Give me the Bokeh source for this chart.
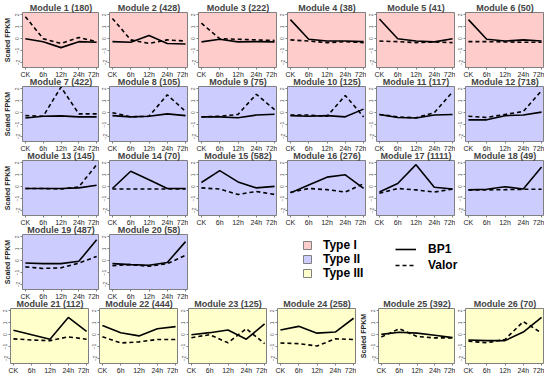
from bokeh.plotting import figure
from bokeh.layouts import column, row
from bokeh.models import Range1d, FixedTicker, Legend, LegendItem
from bokeh.embed import file_html
from bokeh.resources import INLINE

time_labels = ["CK", "6h", "12h", "24h", "72h"]
time_index = [0, 1, 2, 3, 4]
module_ids = list(range(1, 27))
gene_counts = [180, 428, 222, 38, 41, 50, 422, 105, 75, 125, 117, 718, 145,
               70, 582, 276, 1111, 49, 487, 58, 112, 444, 125, 258, 392, 70]
module_types = ["Type I"] * 6 + ["Type II"] * 14 + ["Type III"] * 6
type_names = ["Type I", "Type II", "Type III"]
type_colors = ["#FFCCCC", "#CCCCFF", "#FFFFCC"]
series_names = ["BP1", "Valor"]

bp1 = [
    [0.0, -0.25, -0.75, -0.25, -0.3],
    [-0.25, -0.3, 0.27, -0.4, -0.45],
    [-0.27, -0.05, -0.27, -0.25, -0.27],
    [1.6, -0.05, -0.2, -0.2, -0.25],
    [1.65, 0.0, -0.2, -0.27, 0.0],
    [1.6, -0.05, -0.2, -0.1, -0.2],
    [-0.45, -0.3, -0.27, -0.35, -0.35],
    [-0.25, -0.35, -0.3, -0.1, -0.25],
    [-0.35, -0.35, -0.43, -0.2, -0.13],
    [-0.25, -0.3, -0.25, -0.35, 0.3],
    [-0.15, -0.4, -0.45, -0.2, -0.15],
    [-0.6, -0.6, -0.25, -0.2, 0.05],
    [-0.15, -0.15, -0.15, -0.1, 0.12],
    [-0.15, 1.3, 0.58, -0.15, -0.15],
    [0.35, 1.35, 0.4, -0.1, 0.03],
    [-0.52, 0.15, 0.8, 1.0, -0.15],
    [-0.45, 0.27, 1.85, -0.05, -0.2],
    [-0.27, -0.22, 0.0, -0.2, 1.65],
    [-0.2, -0.25, -0.25, -0.05, 1.75],
    [-0.25, -0.33, -0.38, -0.15, 1.6],
    [0.37, 0.0, -0.38, 1.45, 0.28],
    [0.78, 0.17, -0.1, 0.5, 0.68],
    [0.0, 0.17, 0.4, -0.38, 0.9],
    [0.4, 0.7, 0.13, 0.22, 1.38],
    [0.03, 0.2, 0.13, -0.05, -0.25],
    [-0.45, -0.5, -0.5, 0.22, 1.45],
]
valor = [
    [1.85, 0.0, -0.4, 0.1, -0.25],
    [1.7, -0.1, -0.4, -0.1, -0.2],
    [1.3, 0.0, -0.05, -0.1, -0.15],
    [-0.1, -0.2, -0.33, -0.25, -0.33],
    [-0.2, -0.25, -0.33, -0.27, -0.33],
    [-0.25, -0.25, -0.27, -0.3, -0.3],
    [-0.25, -0.3, 2.15, -0.1, -0.1],
    [0.0, -0.35, -0.3, 1.5, 0.1],
    [-0.35, -0.3, -0.15, 1.55, 0.25],
    [-0.2, -0.2, -0.3, 1.45, -0.35],
    [-0.15, -0.35, -0.43, 0.0, 1.75],
    [-0.3, -0.4, -0.15, 0.1, 1.85],
    [-0.15, -0.15, -0.2, -0.02, 1.85],
    [-0.2, -0.2, -0.2, -0.2, -0.2],
    [-0.1, -0.2, -0.65, -0.4, -0.65],
    [-0.47, -0.15, -0.25, -0.45, 0.25],
    [-0.55, -0.15, -0.27, -0.45, -0.2],
    [-0.27, -0.27, -0.25, -0.22, -0.22],
    [-0.52, -0.65, -0.6, -0.2, 0.35],
    [-0.42, -0.33, -0.47, -0.25, 0.45],
    [-0.35, -0.45, -0.5, -0.18, -0.38],
    [-0.18, -0.7, -0.6, -0.4, -0.4],
    [-0.25, 0.0, -0.68, 0.5, -0.75],
    [-0.7, -0.75, -0.95, -0.35, -0.4],
    [-0.2, 0.5, -0.15, -0.27, -0.27],
    [-0.55, -0.68, -0.4, 1.1, 0.15],
]
y_ticks = [-2, -1, 0, 1, 2]

FONT = "Liberation Sans"
FRAME_W = 79
FIG_H = 80
OVERLAP = 6
COL1_LEFT = 20
COL_LEFT = 10


def make_panel(i, first_col):
    left = COL1_LEFT if first_col else COL_LEFT
    p = figure(width=left + FRAME_W, height=FIG_H,
               x_range=Range1d(-0.16, 4.16), y_range=Range1d(-2.42, 2.2),
               output_backend="svg", toolbar_location=None,
               min_border_left=left, min_border_right=0,
               min_border_top=0, min_border_bottom=0)
    p.title.text = f"Module {module_ids[i]} ({gene_counts[i]})"
    p.title.align = "center"
    p.title.text_font = FONT
    p.title.text_font_size = "9px"
    p.title.text_font_style = "bold"
    p.title.standoff = 0
    p.background_fill_color = type_colors[type_names.index(module_types[i])]
    p.border_fill_color = None
    p.outline_line_color = "#808080"
    p.outline_line_width = 1
    p.grid.visible = False

    xa = p.xaxis[0]
    xa.ticker = FixedTicker(ticks=time_index)
    xa.major_label_overrides = {t: lab for t, lab in zip(time_index, time_labels)}
    xa.major_label_text_font = FONT
    xa.major_label_text_font_size = "7px"
    xa.major_label_text_color = "#222222"
    xa.major_label_standoff = 1
    xa.axis_label_standoff = 0
    xa.major_tick_in = 0
    xa.major_tick_out = 2
    xa.major_tick_line_color = "#808080"
    xa.minor_tick_line_color = None
    xa.axis_line_color = None

    ya = p.yaxis[0]
    ya.ticker = FixedTicker(ticks=y_ticks)
    ya.major_label_orientation = "vertical"
    ya.major_label_text_font = FONT
    ya.major_label_text_font_size = "5px"
    ya.major_label_text_color = "#555555"
    ya.major_label_standoff = 1
    ya.axis_label_standoff = 0
    ya.major_tick_in = 0
    ya.major_tick_out = 2
    ya.major_tick_line_color = "#808080"
    ya.minor_tick_line_color = None
    ya.axis_line_color = None
    if first_col:
        ya.axis_label = "Scaled FPKM"
        ya.axis_label_text_font = FONT
        ya.axis_label_text_font_size = "7px"
        ya.axis_label_text_font_style = "bold"
        ya.axis_label_text_color = "#222222"
        ya.axis_label_standoff = 2

    p.line(time_index, bp1[i], line_color="black", line_width=1.6)
    p.line(time_index, valor[i], line_color="black", line_width=1.6,
           line_dash="4 3")
    return p


panels = [make_panel(i, i % 6 == 0) for i in range(26)]

# legend panel (row 4, columns 3-6)
lp = figure(width=4 * (COL_LEFT + FRAME_W), height=FIG_H,
            x_range=Range1d(0, 1), y_range=Range1d(0, 1),
            x_axis_type=None, y_axis_type=None,
            output_backend="svg", toolbar_location=None,
            min_border_left=0, min_border_right=0,
            min_border_top=0, min_border_bottom=0)
lp.outline_line_color = None
lp.border_fill_color = None
lp.background_fill_color = None
lp.grid.visible = False

nan = float("nan")
type_items = []
for name, col in zip(type_names, type_colors):
    r = lp.quad(left=[nan], right=[nan], top=[nan], bottom=[nan],
                fill_color=col, line_color="#808080", line_width=1)
    type_items.append(LegendItem(label=name, renderers=[r]))
series_items = []
for name, dash in zip(series_names, ["solid", "4 3"]):
    r = lp.line(x=[nan, nan], y=[nan, nan], line_color="black",
                line_width=1.6, line_dash=dash)
    series_items.append(LegendItem(label=name, renderers=[r]))

leg1 = Legend(items=type_items, location=(114, 9))
leg2 = Legend(items=series_items, location=(207, 17))
for lg, gw, so, sp in [(leg1, 10, 11, 0), (leg2, 21, 12, 2)]:
    lg.glyph_width = gw
    lg.glyph_height = 10
    lg.label_standoff = so
    lg.spacing = sp
    lg.padding = 0
    lg.margin = 0
    lg.label_height = 14
    lg.label_text_font = FONT
    lg.label_text_font_size = "12px"
    lg.label_text_font_style = "bold"
    lg.label_text_color = "black"
    lg.border_line_color = None
    lg.background_fill_alpha = 0
    lp.add_layout(lg)

rows = [
    row(*panels[0:6]),
    row(*panels[6:12], margin=(-OVERLAP, 0, 0, 0)),
    row(*panels[12:18], margin=(-OVERLAP, 0, 0, 0)),
    row(*panels[18:20], lp, margin=(-OVERLAP, 0, 0, 0)),
    row(*panels[20:26], margin=(-OVERLAP, 0, -4, 0)),
]
layout = column(*rows)

open("out.html", "w").write(file_html(layout, INLINE))
